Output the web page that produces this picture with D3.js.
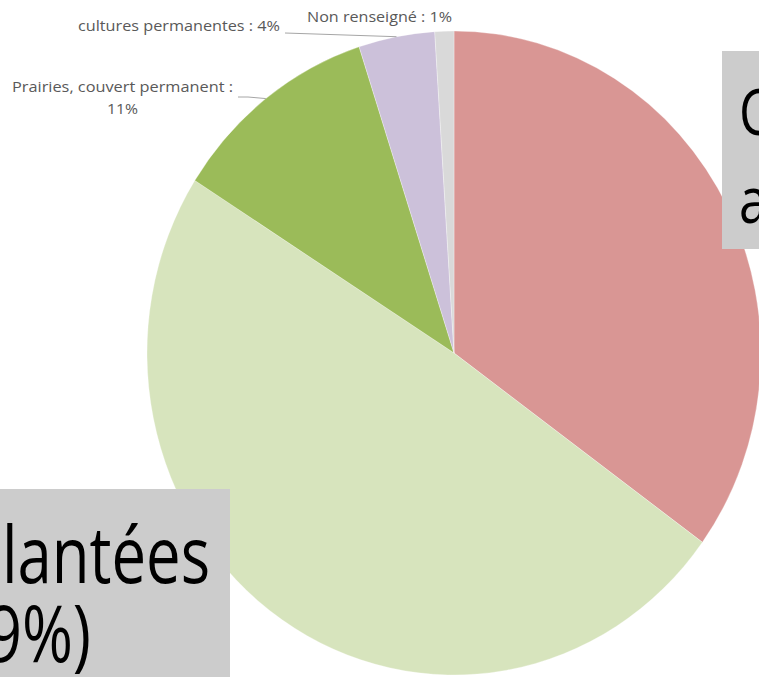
<!DOCTYPE html>
<html>
<head>
<meta charset="utf-8">
<script src="https://cdn.jsdelivr.net/npm/d3@7"></script>
<style>
  html, body { margin: 0; padding: 0; background: #ffffff; }
  svg { display: block; }
</style>
</head>
<body>
<div id="chart"></div>
<script>
// Répartition des surfaces par type de couvert (en %)
const categories = [
  "Cultures annuelles",
  "Cultures plantées",
  "Prairies, couvert permanent",
  "cultures permanentes",
  "Non renseigné"
];
const values = [35, 49, 11, 4, 1];
const colors = ["#D99694", "#D7E4BD", "#9BBB59", "#CCC1DA", "#D9D9D9"];

const W = 759, H = 677;
const cx = 454, cy = 353, rx = 307, ry = 322;

const svg = d3.select("#chart").append("svg")
  .attr("width", W).attr("height", H);

const data = categories.map((c, i) => ({ name: c, value: values[i], color: colors[i] }));

const pie = d3.pie().sort(null).value(d => d.value).startAngle(0).endAngle(2 * Math.PI);
const arcs = pie(data);
const arc = d3.arc().innerRadius(0).outerRadius(rx);

// slightly taller than wide
const g = svg.append("g")
  .attr("transform", `translate(${cx},${cy}) scale(1,${ry / rx})`);

g.selectAll("path").data(arcs).join("path")
  .attr("d", arc)
  .attr("fill", d => d.data.color)
  .attr("stroke", "#ffffff")
  .attr("stroke-opacity", 0.6)
  .attr("stroke-width", 0.5)
  .attr("vector-effect", "non-scaling-stroke");

// point on the outer edge at a slice's middle angle
function edgePoint(a) {
  const m = (a.startAngle + a.endAngle) / 2;
  return [cx + rx * Math.sin(m), cy - ry * Math.cos(m)];
}

// small data labels with leader lines
const small = svg.append("g")
  .attr("font-family", "'Open Sans', 'Noto Sans', sans-serif")
  .attr("font-size", 14.5)
  .attr("fill", "#595959");

const labelLayout = {
  2: { lines: [{ x: 12, y: 92, w: 221 }, { x: 107, y: 114, w: 31, pct: true }], leader: [[238, 97], [248, 97]] },
  3: { lines: [{ x: 78, y: 31, w: 202, full: true }], leader: [[285, 33]] },
  4: { lines: [{ x: 307, y: 22, w: 145, full: true }], leader: null }
};

Object.keys(labelLayout).forEach(k => {
  const i = +k;
  const a = arcs[i];
  const lay = labelLayout[k];
  lay.lines.forEach(ln => {
    let txt;
    if (ln.full) txt = `${a.data.name} : ${a.data.value}%`;
    else if (ln.pct) txt = `${a.data.value}%`;
    else txt = `${a.data.name} :`;
    small.append("text")
      .attr("x", ln.x).attr("y", ln.y)
      .attr("textLength", ln.w)
      .attr("lengthAdjust", "spacingAndGlyphs")
      .text(txt);
  });
  if (lay.leader) {
    const pts = lay.leader.concat([edgePoint(a)]);
    svg.append("path")
      .attr("d", d3.line()(pts))
      .attr("fill", "none")
      .attr("stroke", "#A6A6A6")
      .attr("stroke-width", 1);
  }
});

// large callout boxes
const big = svg.append("g")
  .attr("font-family", "'Open Sans', 'Noto Sans', sans-serif")
  .attr("fill", "#000000");

// right box : first slice
big.append("rect")
  .attr("x", 722).attr("y", 51).attr("width", 300).attr("height", 198)
  .attr("fill", "#CCCCCC");
[["Cultures", 135], [`annuelles (${values[0]}%)`, 223]].forEach(([t, y]) => {
  big.append("text")
    .attr("transform", `translate(739,${y}) scale(0.8,1)`)
    .attr("font-size", 64)
    .text(t);
});

// left box : second slice
big.append("rect")
  .attr("x", -300).attr("y", 489).attr("width", 530).attr("height", 260)
  .attr("fill", "#CCCCCC");
[["Cultures plantées", 583, 210], [`(${values[1]}%)`, 662, 91]].forEach(([t, y, x]) => {
  big.append("text")
    .attr("transform", `translate(${x},${y}) scale(0.78,1)`)
    .attr("text-anchor", "end")
    .attr("font-size", 79)
    .text(t);
});
</script>
</body>
</html>
